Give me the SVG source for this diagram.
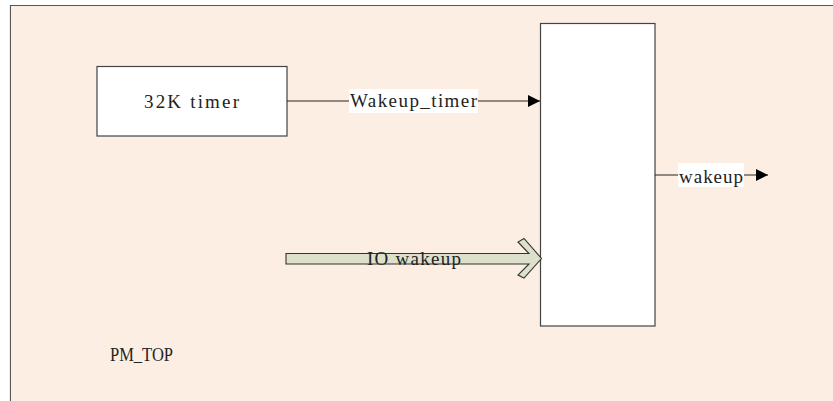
<svg xmlns="http://www.w3.org/2000/svg" width="833" height="401" viewBox="0 0 833 401">
<style>
.t{font-family:"Liberation Serif","DejaVu Serif",serif;font-size:19px;fill:#222}
.box{fill:#fff;stroke:#444;stroke-width:1.2}
.ln{stroke:#222;stroke-width:1;fill:none}
</style>
<defs>
<marker id="ah" viewBox="0 0 10 10" refX="10" refY="5" markerWidth="15" markerHeight="12" markerUnits="userSpaceOnUse" orient="auto">
<path d="M0,0 L10,5 L0,10 z" fill="#000"/>
</marker>
</defs>
<g id="pm_top">
<path d="M10.5,401 V5.5 H833" fill="none" stroke="#555" stroke-width="1.2"/>
<rect x="11" y="6" width="822" height="395" fill="#FDEEE3"/>
<text class="t" x="110" y="361" textLength="63" lengthAdjust="spacingAndGlyphs">PM_TOP</text>
</g>
<g id="timer">
<rect class="box" x="97" y="66.5" width="190" height="69.5"/>
<text class="t" x="144" y="108" textLength="95">32K timer</text>
</g>
<g id="mux">
<rect class="box" x="540.5" y="23.5" width="114.5" height="302.5"/>
</g>
<g id="connectors">
<line class="ln" x1="287" y1="101" x2="540" y2="101" marker-end="url(#ah)"/>
<rect x="349" y="89" width="129" height="24" fill="#fff"/>
<text class="t" x="350" y="107" textLength="127">Wakeup_timer</text>
<path d="M286,253.5 H529 L518,242 L524,238.5 L541.5,258.5 L524,278 L518,275 L529,264 H286 Z" fill="#DDE1CB" stroke="#333" stroke-width="1.1"/>
<text class="t" x="367" y="265" textLength="94">IO wakeup</text>
<line class="ln" x1="655" y1="175" x2="768" y2="175" marker-end="url(#ah)"/>
<rect x="678" y="163" width="66" height="24" fill="#fff"/>
<text class="t" x="679" y="183" textLength="64">wakeup</text>
</g>
</svg>
